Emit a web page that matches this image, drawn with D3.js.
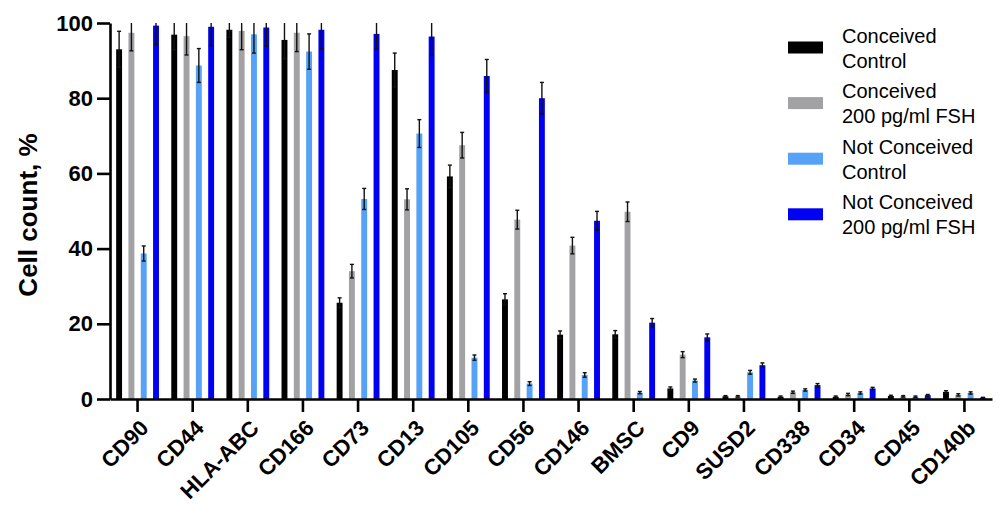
<!DOCTYPE html>
<html>
<head>
<meta charset="utf-8">
<script src="https://cdn.jsdelivr.net/npm/d3@7"></script>
<style>
  body { margin: 0; background: #fff; }
  svg { display: block; font-family: "Liberation Sans", Arial, sans-serif; }
</style>
</head>
<body>
<svg id="chart" width="999" height="505"></svg>
<script>
// ── Data ───────────────────────────────────────────────────
const markers = ["CD90", "CD44", "HLA-ABC", "CD166", "CD73", "CD13", "CD105", "CD56",
                 "CD146", "BMSC", "CD9", "SUSD2", "CD338", "CD34", "CD45", "CD140b"];

const seriesNames = ["Conceived\nControl", "Conceived\n200 pg/ml FSH",
                     "Not Conceived\nControl", "Not Conceived\n200 pg/ml FSH"];
const seriesColors = ["#000000", "#a2a2a5", "#55a2f6", "#0000f5"];

const concCtrl    = [93.0, 96.9, 98.2, 95.5, 25.6, 87.5, 59.2, 26.5, 17.1, 17.2, 2.8, 0.7, 0.6, 0.6, 0.8, 1.9];
const concCtrlErr = [4.8, 4.0, 2.0, 5.0, 1.3, 4.5, 3.0, 1.5, 1.0, 1.0, 0.4, 0.2, 0.2, 0.2, 0.2, 0.3];
const concFsh     = [97.4, 96.5, 97.9, 97.4, 34.0, 53.1, 67.5, 47.7, 40.8, 49.8, 11.8, 0.7, 1.8, 1.2, 0.7, 1.1];
const concFshErr  = [4.8, 5.0, 5.0, 5.0, 1.8, 2.8, 3.4, 2.5, 2.2, 2.6, 0.8, 0.2, 0.3, 0.3, 0.2, 0.3];
const notCtrl     = [38.7, 88.7, 97.0, 92.4, 53.2, 70.6, 11.0, 4.1, 6.4, 1.7, 4.9, 7.1, 2.4, 1.6, 0.6, 1.6];
const notCtrlErr  = [2.0, 4.5, 5.0, 4.7, 2.8, 3.7, 0.7, 0.5, 0.6, 0.3, 0.4, 0.5, 0.3, 0.3, 0.2, 0.3];
const notFsh      = [99.3, 99.0, 98.8, 98.2, 97.1, 96.4, 85.9, 80.0, 47.4, 20.3, 16.4, 9.0, 3.7, 2.8, 1.0, 0.35];
const notFshErr   = [5.0, 5.0, 5.0, 5.0, 4.0, 5.0, 4.4, 4.2, 2.5, 1.1, 0.9, 0.6, 0.4, 0.3, 0.2, 0.1];

const yTicks = [0, 20, 40, 60, 80, 100];

const seriesVals = [concCtrl, concFsh, notCtrl, notFsh];
const seriesErrs = [concCtrlErr, concFshErr, notCtrlErr, notFshErr];

// ── Layout ─────────────────────────────────────────────────
const svg = d3.select("#chart");
const x0 = 110, x1 = 992, yTop = 23, yBot = 399;

const x = d3.scaleBand().domain(markers).range([x0, x1]).padding(0);
const xs = d3.scaleBand().domain(d3.range(4)).range([0, x.bandwidth()])
  .paddingInner(0.52).paddingOuter(0.5);
const y = d3.scaleLinear().domain([0, 100]).range([yBot, yTop]);

// ── Bars ───────────────────────────────────────────────────
const rows = [];
markers.forEach((m, i) => {
  seriesVals.forEach((vals, s) => {
    rows.push({ m, s, v: vals[i], e: seriesErrs[s][i] });
  });
});

svg.append("g").selectAll("rect").data(rows).join("rect")
  .attr("x", d => x(d.m) + xs(d.s))
  .attr("y", d => y(d.v))
  .attr("width", xs.bandwidth())
  .attr("height", d => y(0) - y(d.v))
  .attr("fill", d => seriesColors[d.s]);

// ── Error bars (clipped at axis top) ──────────────────────
const eg = svg.append("g").attr("stroke", "#111").attr("stroke-width", 1.4);
rows.forEach(d => {
  const cx = x(d.m) + xs(d.s) + xs.bandwidth() / 2;
  const hi = Math.min(d.v + d.e, 100);
  const lo = Math.max(d.v - d.e, 0);
  eg.append("line").attr("x1", cx).attr("x2", cx).attr("y1", y(hi)).attr("y2", y(lo));
  if (d.v + d.e <= 100) {
    eg.append("line").attr("x1", cx - 2).attr("x2", cx + 2).attr("y1", y(hi)).attr("y2", y(hi));
  }
  eg.append("line").attr("x1", cx - 2).attr("x2", cx + 2).attr("y1", y(lo)).attr("y2", y(lo));
});

// ── Y axis ─────────────────────────────────────────────────
const yAxis = svg.append("g").attr("transform", `translate(${x0},0)`)
  .call(d3.axisLeft(y).tickValues(yTicks).tickSize(13).tickPadding(4).tickSizeOuter(0));
yAxis.selectAll("path, line").attr("stroke", "#000").attr("stroke-width", 2.6);
yAxis.selectAll("text")
  .attr("font-size", 22).attr("font-weight", "bold").attr("fill", "#000")
  .attr("font-family", "Liberation Sans, Arial, sans-serif");

// ── X axis ─────────────────────────────────────────────────
const xAxis = svg.append("g").attr("transform", `translate(0,${yBot})`)
  .call(d3.axisBottom(x).tickSize(13).tickSizeOuter(0).tickFormat(""));
xAxis.selectAll("path, line").attr("stroke", "#000").attr("stroke-width", 2.6);

// Rotated category labels
svg.append("g").selectAll("text").data(markers).join("text")
  .attr("transform", d => `translate(${x(d) + x.bandwidth() / 2 + 7},${yBot + 25}) rotate(-45)`)
  .attr("text-anchor", "end")
  .attr("dy", "0.35em")
  .attr("font-size", 22).attr("font-weight", "bold").attr("fill", "#000")
  .text(d => d);

// ── Y axis title ──────────────────────────────────────────
svg.append("text")
  .attr("transform", `translate(37,215) rotate(-90)`)
  .attr("text-anchor", "middle")
  .attr("font-size", 26).attr("font-weight", "bold")
  .text("Cell count, %");

// ── Legend ─────────────────────────────────────────────────
const lg = svg.append("g");
seriesNames.forEach((name, i) => {
  const cy = 47.5 + i * 55.6;
  lg.append("rect")
    .attr("x", 788).attr("y", cy - 6).attr("width", 35).attr("height", 12)
    .attr("fill", seriesColors[i]);
  const t = lg.append("text")
    .attr("x", 842).attr("y", cy - 5)
    .attr("font-size", 20).attr("fill", "#000");
  name.split("\n").forEach((line, k) => {
    t.append("tspan").attr("x", 842).attr("dy", k === 0 ? 0 : 25).text(line);
  });
});
</script>
</body>
</html>
